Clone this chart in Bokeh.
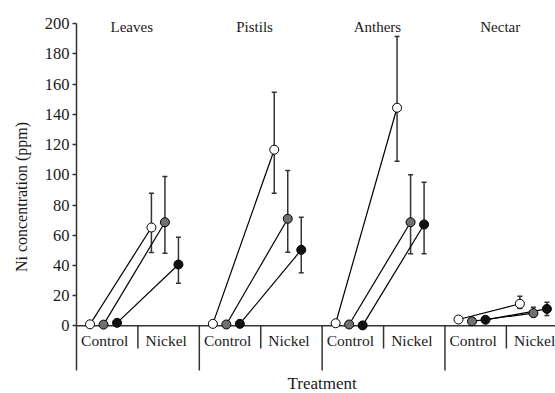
from bokeh.plotting import figure
from bokeh.models import ColumnDataSource, FixedTicker, Range1d, Whisker, TeeHead
from bokeh.core.properties import value
from bokeh.embed import file_html
from bokeh.resources import INLINE

# ---- data ----
organs = ["Leaves", "Pistils", "Anthers", "Nectar"]
treatments = ["Control", "Nickel"]
y_ticks = [0, 20, 40, 60, 80, 100, 120, 140, 160, 180, 200]

control_white = [1.0, 1.3, 1.7, 4.2]
control_gray = [0.8, 0.9, 0.9, 3.0]
control_black = [2.0, 1.3, 0.3, 4.0]

nickel_white = [65.1, 116.6, 144.4, 14.6]
nickel_white_hi = [87.8, 154.7, 191.6, 19.6]
nickel_white_lo = [48.5, 87.8, 109.0, 11.5]

nickel_gray = [68.6, 70.9, 68.6, 8.4]
nickel_gray_hi = [98.9, 102.8, 100.0, 12.3]
nickel_gray_lo = [48.0, 48.7, 47.7, 6.0]

nickel_black = [40.6, 50.3, 67.1, 11.2]
nickel_black_hi = [58.7, 71.9, 95.1, 15.6]
nickel_black_lo = [28.2, 35.1, 47.7, 6.8]

# ---- styling ----
FONT = value("Liberation Serif")
TXT = "#1a1a1a"
AX = "#333333"
series = [
    ("white", control_white, nickel_white, nickel_white_hi, nickel_white_lo, 0.22),
    ("#707070", control_gray, nickel_gray, nickel_gray_hi, nickel_gray_lo, 0.44),
    ("#111111", control_black, nickel_black, nickel_black_hi, nickel_black_lo, 0.66),
]

p = figure(width=555, height=393, output_backend="svg", toolbar_location=None,
           x_axis_type=None, x_range=Range1d(0, 7.80), y_range=Range1d(-44.8, 215.4),
           min_border_left=76, min_border_right=0, min_border_top=0, min_border_bottom=0)
p.outline_line_color = None
p.ygrid.grid_line_color = None
p.background_fill_color = "white"

ax = p.yaxis[0]
ax.ticker = FixedTicker(ticks=y_ticks)
ax.bounds = (-29.6, 200)
ax.axis_line_color = AX
ax.axis_line_width = 1.5
ax.major_tick_line_color = AX
ax.major_tick_line_width = 1.5
ax.major_tick_in = 0
ax.major_tick_out = 4
ax.minor_tick_line_color = None
ax.major_label_standoff = 3
ax.major_label_text_font = "Liberation Serif"
ax.major_label_text_font_size = "16.5px"
ax.major_label_text_color = TXT
ax.axis_label = "Ni concentration (ppm)"
ax.axis_label_text_font = "Liberation Serif"
ax.axis_label_text_font_size = "16px"
ax.axis_label_text_font_style = "normal"
ax.axis_label_text_color = TXT
ax.axis_label_standoff = 12

n = len(organs)
# x axis line and category dividers
p.segment(x0=[0], y0=[0], x1=[8.0], y1=[0], line_color=AX, line_width=1.5)
p.segment(x0=[2 * i for i in range(1, n)], y0=[0] * (n - 1),
          x1=[2 * i for i in range(1, n)], y1=[-29.6] * (n - 1),
          line_color=AX, line_width=1.5)
p.segment(x0=[2 * i + 1 for i in range(n)], y0=[0] * n,
          x1=[2 * i + 1 for i in range(n)], y1=[-15.0] * n,
          line_color=AX, line_width=1.5)

# panel titles
p.text(x=[2 * i + 0.9 for i in range(n)], y=[197.7] * n, text=organs,
       text_font=FONT, text_font_size="15px", text_color=TXT,
       text_align="center", text_baseline="middle")
# treatment labels
cx, ct = [], []
for i in range(n):
    for t, name in enumerate(treatments):
        cx.append(2 * i + t + 0.46)
        ct.append(name)
p.text(x=cx, y=[-9.7] * len(cx), text=ct, text_font=FONT, text_font_size="15.5px",
       text_color=TXT, text_align="center", text_baseline="middle")
p.text(x=[4.0], y=[-38.0], text=["Treatment"], text_font=FONT, text_font_size="17px",
       text_color=TXT, text_align="center", text_baseline="middle")

# error bars
for color, c, nk, hi, lo, off in series:
    src = ColumnDataSource(dict(x=[2 * i + 1 + off for i in range(n)], hi=hi, lo=lo))
    w = Whisker(source=src, base="x", upper="hi", lower="lo",
                line_color=AX, line_width=1.5,
                upper_head=TeeHead(size=5, line_color=AX, line_width=1.5),
                lower_head=TeeHead(size=5, line_color=AX, line_width=1.5))
    p.add_layout(w)

# connecting lines
for color, c, nk, hi, lo, off in series:
    p.segment(x0=[2 * i + off for i in range(n)], y0=c,
              x1=[2 * i + 1 + off for i in range(n)], y1=nk,
              line_color="black", line_width=1.2)

# markers
for color, c, nk, hi, lo, off in series:
    xs = [2 * i + off for i in range(n)] + [2 * i + 1 + off for i in range(n)]
    ys = list(c) + list(nk)
    p.scatter(x=xs, y=ys, size=9, fill_color=color, line_color="black", line_width=1)

open("out.html", "w").write(file_html(p, INLINE))
